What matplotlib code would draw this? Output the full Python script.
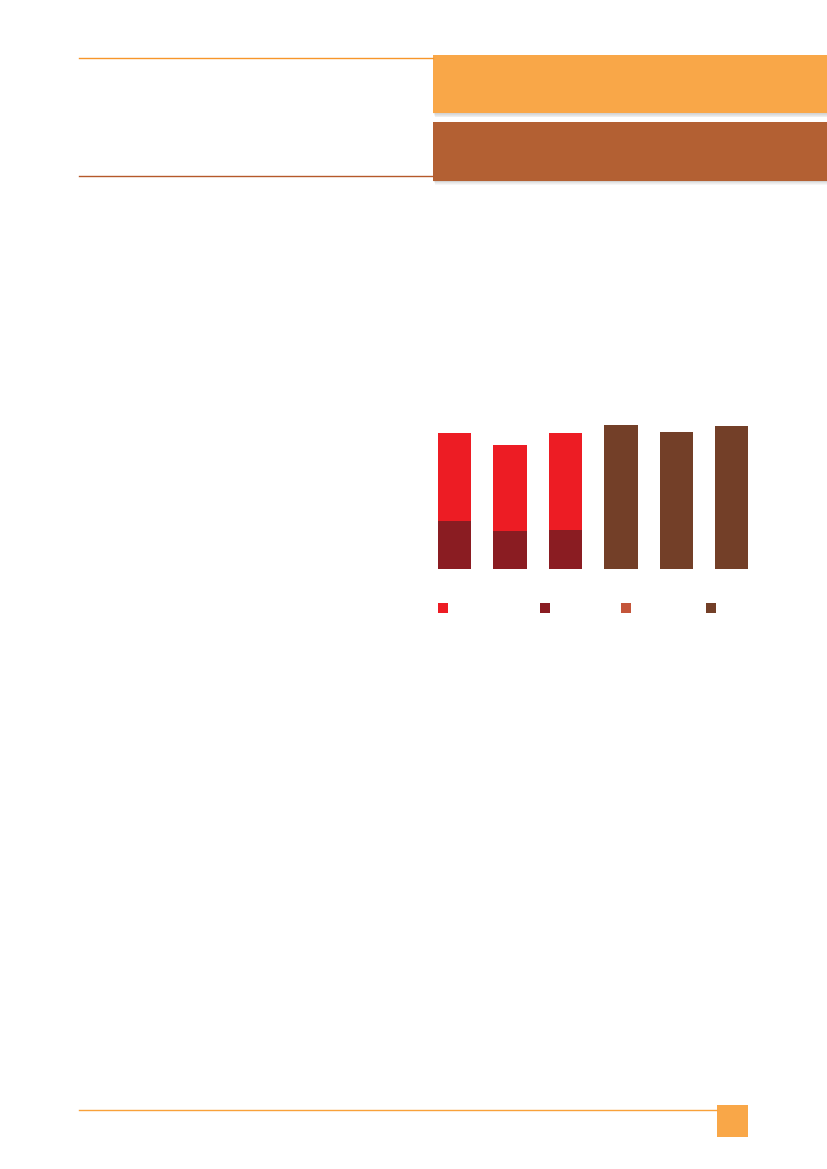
import matplotlib

matplotlib.use('Agg')
import matplotlib.pyplot as plt
from matplotlib.patches import Rectangle
import numpy as np

# 数据（从图中估计）
categories = ['1', '2', '3', '4', '5', '6']
dark_part = [47.5, 37.5, 39.0, 0, 0, 0]
red_part = [88.0, 86.0, 96.5, 0, 0, 0]
other_part = [0, 0, 0, 0, 0, 0]
brown_part = [0, 0, 0, 143.5, 136.5, 142.5]

series_colors = ['#ED1C24', '#8A1C22', '#C4553A', '#733F28']

W, H = 827, 1169
fig = plt.figure(figsize=(W / 100, H / 100), dpi=100)

# 页面装饰用的整页坐标轴（像素坐标）
deco = fig.add_axes([0, 0, 1, 1])
deco.set_xlim(0, W)
deco.set_ylim(H, 0)
deco.axis('off')

# 顶部标题框（带阴影）
for (y0, y1, c) in [(54.7, 113.3, '#F9A748'), (121.7, 180.7, '#B36033')]:
    for k in range(1, 6):
        deco.add_patch(Rectangle((433 + k * 0.4, y0 + k * 0.8), W - 433, y1 - y0,
                                 color='#000000', alpha=0.035, lw=0))
    deco.add_patch(Rectangle((433, y0), W - 433, y1 - y0, color=c, lw=0))

deco.plot([78.7, 433], [58.3, 58.3], color='#F7962A', lw=1.0)
deco.plot([78.7, 433], [176.3, 176.3], color='#B5592A', lw=1.0)

# 页脚
deco.plot([79, 717], [1110.3, 1110.3], color='#F9A13A', lw=1.0)
deco.add_patch(Rectangle((716.7, 1105.3), 31.6, 31.7, color='#F9A748', lw=0))

# 图例方块
legend_x = [438.3, 540.3, 621.3, 705.7]
for x, c in zip(legend_x, series_colors):
    deco.add_patch(Rectangle((x, 602.7), 10, 10, color=c, lw=0))

# 柱状图
left, right = 427.0, 759.4
base, top = 568.5, 420.0
ax = fig.add_axes([left / W, 1 - base / H, (right - left) / W, (base - top) / H])
x = np.arange(len(categories))
ax.bar(x, dark_part, width=0.6, color=series_colors[1], lw=0)
ax.bar(x, red_part, width=0.6, bottom=dark_part, color=series_colors[0], lw=0)
bottom2 = np.array(dark_part) + np.array(red_part)
ax.bar(x, other_part, width=0.6, bottom=bottom2, color=series_colors[2], lw=0)
ax.bar(x, brown_part, width=0.6, color=series_colors[3], lw=0)
ax.set_xlim(-0.5, len(categories) - 0.5)
ax.set_ylim(0, base - top)
ax.axis('off')

fig.savefig('out.png', dpi=100)
